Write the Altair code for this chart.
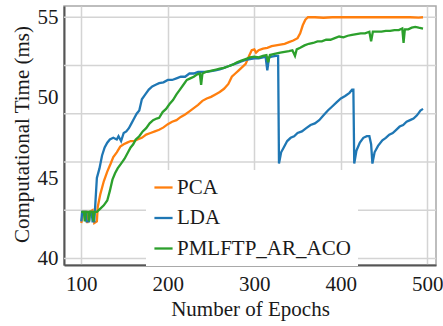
import altair as alt
import pandas as pd

# ---------------- data ----------------
pca_epochs = [100, 102, 106, 107, 110, 113, 115, 118, 119, 122, 126, 130, 134, 137, 141, 145, 149, 153,
              157, 161, 165, 170, 175, 180, 185, 190, 195, 200, 205, 210, 215, 220, 225, 230, 235, 240,
              245, 250, 255, 260, 265, 270, 274, 278, 282, 286, 290, 294, 297, 300, 302, 305, 310, 315,
              320, 325, 330, 335, 340, 345, 350, 353, 356, 359, 362, 370, 380, 390, 400, 420, 440, 460,
              480, 490, 495]
pca_values = [42.2, 42.9, 42.9, 42.2, 42.9, 43.0, 42.2, 42.3, 43.2, 44.0, 44.8, 45.4, 45.9, 46.3, 46.6,
              46.95, 47.1, 47.2, 47.3, 47.3, 47.4, 47.5, 47.7, 47.8, 47.9, 48.0, 48.15, 48.35, 48.5, 48.6,
              48.8, 48.95, 49.15, 49.35, 49.55, 49.8, 49.95, 50.05, 50.2, 50.35, 50.55, 50.85, 51.3, 51.5,
              51.7, 51.9, 52.1, 52.6, 52.95, 53.0, 52.8, 52.95, 53.05, 53.1, 53.2, 53.25, 53.3, 53.35,
              53.45, 53.55, 53.7, 54.0, 54.5, 54.85, 55.0, 55.0, 54.97, 55.0, 55.0, 55.0, 55.0, 55.0,
              55.0, 54.98, 55.0]

lda_epochs = [100, 101, 105, 106, 109, 110, 112, 113, 115, 116, 118, 121, 124, 127, 130, 133, 137, 141,
              143, 146, 149, 152, 155, 158, 161, 164, 167, 170, 174, 178, 182, 186, 190, 195, 200, 205,
              210, 215, 220, 225, 230, 235, 240, 245, 250, 255, 260, 265, 270, 275, 280, 285, 290, 295,
              300, 305, 310, 313, 315, 317, 320, 325, 327.5, 328.5, 331, 334, 338, 342, 346, 350, 355,
              360, 365, 370, 375, 380, 385, 390, 395, 400, 405, 410, 413, 414.5, 415.5, 418, 422, 426,
              430, 433, 435, 436.5, 439, 443, 448, 452, 456, 460, 464, 468, 472, 476, 480, 484, 488,
              492, 495]
lda_values = [42.3, 42.9, 42.9, 42.3, 42.3, 42.9, 42.9, 42.3, 42.3, 43.2, 45.0, 45.6, 46.4, 46.9, 47.2,
              47.4, 47.5, 47.4, 47.6, 47.3, 47.8, 47.9, 48.1, 48.4, 48.7, 49.0, 49.2, 49.9, 50.2, 50.5,
              50.7, 50.8, 50.9, 50.95, 51.1, 51.1, 51.2, 51.3, 51.3, 51.5, 51.5, 51.6, 51.6, 51.6, 51.65,
              51.7, 51.75, 51.85, 51.95, 52.05, 52.15, 52.25, 52.35, 52.4, 52.45, 52.45, 52.5, 52.55,
              51.7, 52.5, 52.55, 52.6, 52.6, 45.9, 46.6, 46.9, 47.3, 47.5, 47.6, 47.8, 47.9, 48.1, 48.3,
              48.4, 48.6, 48.9, 49.2, 49.45, 49.7, 49.95, 50.1, 50.3, 50.5, 50.5, 45.9, 46.7, 47.2, 47.5,
              47.6, 47.6, 47.1, 45.9, 46.6, 47.0, 47.35, 47.5, 47.7, 47.8, 48.0, 48.2, 48.3, 48.5, 48.6,
              48.7, 48.9, 49.2, 49.3]

aco_epochs = [100, 103, 104, 105, 108, 109, 110, 113, 114, 115, 118, 122, 126, 130, 133, 136, 139, 142,
              146, 150, 154, 157, 160, 163, 167, 171, 175, 179, 183, 187, 190, 194, 198, 202, 206, 210,
              214, 218, 222, 226, 230, 234, 237, 238.5, 240, 244, 248, 252, 256, 260, 265, 270, 275, 280,
              285, 290, 295, 300, 305, 310, 314, 316, 318, 322, 326, 330, 335, 340, 344, 347, 349, 353,
              358, 363, 368, 373, 378, 383, 388, 393, 398, 403, 408, 413, 418, 423, 428, 433, 435, 437,
              442, 447, 452, 457, 462, 467, 471, 472.5, 474, 478, 482, 486, 490, 495]
aco_values = [42.9, 42.9, 42.3, 42.9, 42.9, 42.3, 42.9, 42.9, 42.3, 42.9, 42.9, 43.1, 43.3, 43.6, 44.2,
              44.9, 45.3, 45.6, 45.9, 46.2, 46.6, 46.9, 47.1, 47.4, 47.6, 47.9, 48.1, 48.4, 48.6, 48.7,
              48.75, 49.1, 49.3, 49.6, 49.85, 50.2, 50.5, 50.8, 51.1, 51.2, 51.3, 51.45, 51.5, 50.8, 51.5,
              51.6, 51.65, 51.7, 51.75, 51.8, 51.85, 51.95, 52.05, 52.2, 52.3, 52.4, 52.5, 52.55, 52.5,
              52.6, 52.65, 52.2, 52.65, 52.7, 52.75, 52.8, 52.85, 52.9, 52.95, 52.6, 53.0, 53.1, 53.25,
              53.35, 53.4, 53.5, 53.5, 53.6, 53.6, 53.7, 53.8, 53.75, 53.85, 53.9, 53.95, 54.0, 54.0,
              54.1, 53.5, 54.1, 54.1, 54.1, 54.15, 54.15, 54.2, 54.2, 54.3, 53.4, 54.25, 54.25, 54.35,
              54.4, 54.35, 54.3]

series_names = ["PCA", "LDA", "PMLFTP_AR_ACO"]
series_colors = ["#ff7f0e", "#1f77b4", "#2ca02c"]
x_ticks = [100, 200, 300, 400, 500]
y_ticks = [40, 45, 50, 55]
y_grid = [55, 52, 49, 46, 43, 40]

# ---------------- build table ----------------
frames = []
for name, ep, val in zip(series_names,
                         [pca_epochs, lda_epochs, aco_epochs],
                         [pca_values, lda_values, aco_values]):
    frames.append(pd.DataFrame({"epoch": ep, "value": val, "series": name}))
df = pd.concat(frames, ignore_index=True)

FONT = "'Liberation Serif', 'Times New Roman', serif"
TXT = "#1a1a1a"
xscale = alt.Scale(domain=[80, 510], nice=False, zero=False)
yscale = alt.Scale(domain=[39.59, 55.7], nice=False, zero=False)

y_axis = alt.Axis(values=y_ticks, grid=False, title="Computational Time (ms)",
                  labelPadding=6, ticks=False, titleX=-42, titleY=128,
                  titleBaseline="middle")

grid = alt.Chart(pd.DataFrame({"g": y_grid})).mark_rule(
    color="#d4d4d4", strokeWidth=1.5
).encode(y=alt.Y("g:Q", scale=yscale, axis=y_axis))

lines = alt.Chart(df).mark_line(strokeWidth=2.3, clip=True).encode(
    x=alt.X("epoch:Q", scale=xscale,
            axis=alt.Axis(values=x_ticks, grid=True, gridColor="#d4d4d4", gridWidth=1.5,
                          title="Number of Epochs", labelPadding=8, titlePadding=4,
                          labelFlush=False, ticks=False)),
    y=alt.Y("value:Q", scale=yscale, axis=y_axis),
    color=alt.Color("series:N",
                    scale=alt.Scale(domain=series_names, range=series_colors),
                    legend=alt.Legend(title=None, orient="none", legendX=82, legendY=164,
                                      fillColor="white", padding=7, labelLimit=400,
                                      labelFont=FONT, labelFontSize=21, labelColor=TXT,
                                      symbolType="stroke", symbolSize=330,
                                      symbolStrokeWidth=2.3, rowPadding=8.5, labelOffset=3)),
    detail="series:N",
)

chart = alt.layer(grid, lines).properties(
    width=372, height=259,
    autosize=alt.AutoSizeParams(type="none"),
    padding={"left": 64, "top": 6, "right": 7, "bottom": 61},
).configure_view(
    stroke="#a8a8a8", strokeWidth=1.5
).configure_axis(
    labelFont=FONT, labelFontSize=21, labelColor=TXT,
    titleFont=FONT, titleFontSize=21, titleFontWeight="normal", titleColor=TXT,
    domainColor="#555555", domainWidth=2,
)

chart.save("out.html", embed_options={"renderer": "svg", "actions": False})
